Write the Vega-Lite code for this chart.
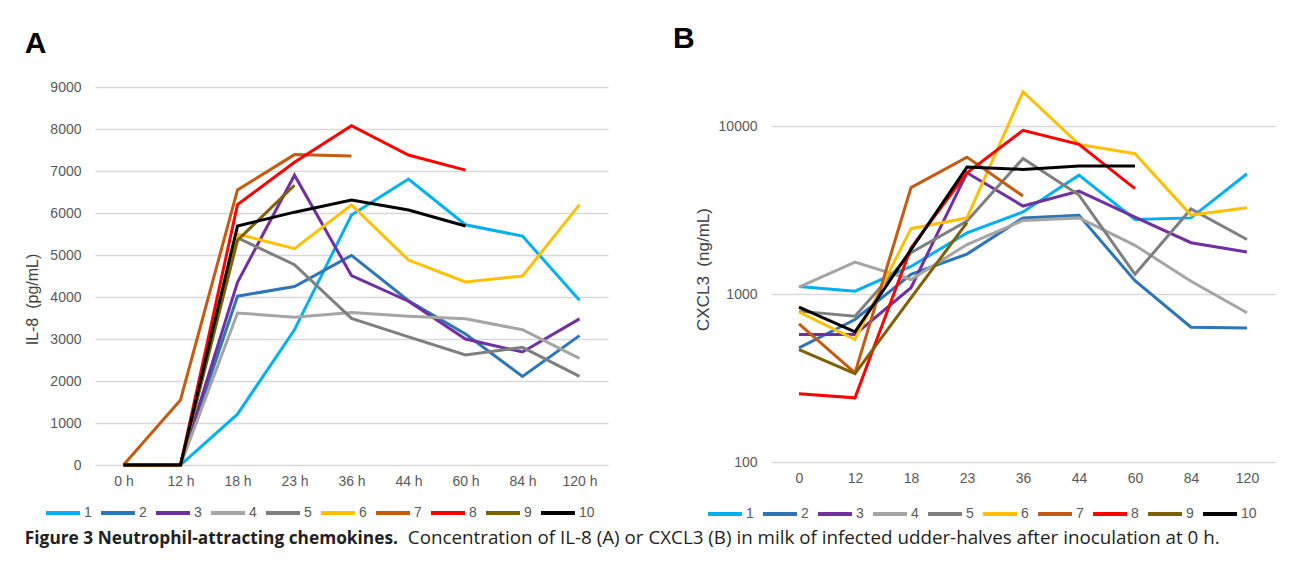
{
  "$schema": "https://vega.github.io/schema/vega-lite/v6.json",
  "background": "white",
  "padding": {"left": 24, "top": 24, "right": 10, "bottom": 4},
  "config": {
    "view": {"stroke": null},
    "font": "Liberation Sans",
    "axis": {
      "labelFont": "Liberation Sans", "labelFontSize": 14, "labelColor": "#595959",
      "titleFont": "Liberation Sans", "titleFontSize": 17, "titleFontWeight": "normal", "titleColor": "#404040",
      "gridColor": "#D9D9D9", "gridWidth": 1.5, "domain": false, "ticks": false
    },
    "legend": {
      "labelFont": "Liberation Sans", "labelFontSize": 14, "labelColor": "#595959",
      "symbolType": "stroke", "symbolSize": 1156, "symbolStrokeWidth": 4,
      "labelOffset": 2, "columnPadding": 1, "direction": "horizontal", "columns": 10,
      "orient": "none", "title": null
    }
  },
  "datasets": {
    "a": [
      {"s":"1","t":"0 h","v":0},{"s":"1","t":"12 h","v":0},{"s":"1","t":"18 h","v":1210},{"s":"1","t":"23 h","v":3220},{"s":"1","t":"36 h","v":5950},{"s":"1","t":"44 h","v":6810},{"s":"1","t":"60 h","v":5720},{"s":"1","t":"84 h","v":5450},{"s":"1","t":"120 h","v":3920},
      {"s":"2","t":"0 h","v":0},{"s":"2","t":"12 h","v":0},{"s":"2","t":"18 h","v":4020},{"s":"2","t":"23 h","v":4250},{"s":"2","t":"36 h","v":4990},{"s":"2","t":"44 h","v":3910},{"s":"2","t":"60 h","v":3120},{"s":"2","t":"84 h","v":2110},{"s":"2","t":"120 h","v":3080},
      {"s":"3","t":"0 h","v":0},{"s":"3","t":"12 h","v":0},{"s":"3","t":"18 h","v":4350},{"s":"3","t":"23 h","v":6900},{"s":"3","t":"36 h","v":4510},{"s":"3","t":"44 h","v":3900},{"s":"3","t":"60 h","v":3000},{"s":"3","t":"84 h","v":2690},{"s":"3","t":"120 h","v":3480},
      {"s":"4","t":"0 h","v":0},{"s":"4","t":"12 h","v":0},{"s":"4","t":"18 h","v":3620},{"s":"4","t":"23 h","v":3520},{"s":"4","t":"36 h","v":3630},{"s":"4","t":"44 h","v":3540},{"s":"4","t":"60 h","v":3480},{"s":"4","t":"84 h","v":3220},{"s":"4","t":"120 h","v":2540},
      {"s":"5","t":"0 h","v":0},{"s":"5","t":"12 h","v":0},{"s":"5","t":"18 h","v":5410},{"s":"5","t":"23 h","v":4770},{"s":"5","t":"36 h","v":3490},{"s":"5","t":"44 h","v":3050},{"s":"5","t":"60 h","v":2620},{"s":"5","t":"84 h","v":2800},{"s":"5","t":"120 h","v":2110},
      {"s":"6","t":"0 h","v":0},{"s":"6","t":"12 h","v":0},{"s":"6","t":"18 h","v":5500},{"s":"6","t":"23 h","v":5150},{"s":"6","t":"36 h","v":6190},{"s":"6","t":"44 h","v":4880},{"s":"6","t":"60 h","v":4360},{"s":"6","t":"84 h","v":4500},{"s":"6","t":"120 h","v":6200},
      {"s":"7","t":"0 h","v":0},{"s":"7","t":"12 h","v":1550},{"s":"7","t":"18 h","v":6550},{"s":"7","t":"23 h","v":7390},{"s":"7","t":"36 h","v":7360},
      {"s":"8","t":"0 h","v":0},{"s":"8","t":"12 h","v":0},{"s":"8","t":"18 h","v":6200},{"s":"8","t":"23 h","v":7210},{"s":"8","t":"36 h","v":8080},{"s":"8","t":"44 h","v":7380},{"s":"8","t":"60 h","v":7020},
      {"s":"9","t":"0 h","v":0},{"s":"9","t":"12 h","v":0},{"s":"9","t":"18 h","v":5350},{"s":"9","t":"23 h","v":6660},
      {"s":"10","t":"0 h","v":0},{"s":"10","t":"12 h","v":0},{"s":"10","t":"18 h","v":5690},{"s":"10","t":"23 h","v":6020},{"s":"10","t":"36 h","v":6310},{"s":"10","t":"44 h","v":6070},{"s":"10","t":"60 h","v":5690}
    ],
    "b": [
      {"s":"1","t":"0","v":1110},{"s":"1","t":"12","v":1040},{"s":"1","t":"18","v":1460},{"s":"1","t":"23","v":2310},{"s":"1","t":"36","v":3080},{"s":"1","t":"44","v":5100},{"s":"1","t":"60","v":2780},{"s":"1","t":"84","v":2840},{"s":"1","t":"120","v":5200},
      {"s":"2","t":"0","v":478},{"s":"2","t":"12","v":705},{"s":"2","t":"18","v":1310},{"s":"2","t":"23","v":1730},{"s":"2","t":"36","v":2840},{"s":"2","t":"44","v":2940},{"s":"2","t":"60","v":1200},{"s":"2","t":"84","v":634},{"s":"2","t":"120","v":628},
      {"s":"3","t":"0","v":574},{"s":"3","t":"12","v":574},{"s":"3","t":"18","v":1090},{"s":"3","t":"23","v":5270},{"s":"3","t":"36","v":3340},{"s":"3","t":"44","v":4100},{"s":"3","t":"60","v":2870},{"s":"3","t":"84","v":2020},{"s":"3","t":"120","v":1780},
      {"s":"4","t":"0","v":1100},{"s":"4","t":"12","v":1550},{"s":"4","t":"18","v":1220},{"s":"4","t":"23","v":1970},{"s":"4","t":"36","v":2740},{"s":"4","t":"44","v":2840},{"s":"4","t":"60","v":1950},{"s":"4","t":"84","v":1190},{"s":"4","t":"120","v":773},
      {"s":"5","t":"0","v":791},{"s":"5","t":"12","v":738},{"s":"5","t":"18","v":1760},{"s":"5","t":"23","v":2720},{"s":"5","t":"36","v":6410},{"s":"5","t":"44","v":3880},{"s":"5","t":"60","v":1310},{"s":"5","t":"84","v":3210},{"s":"5","t":"120","v":2110},
      {"s":"6","t":"0","v":783},{"s":"6","t":"12","v":536},{"s":"6","t":"18","v":2450},{"s":"6","t":"23","v":2840},{"s":"6","t":"36","v":16000},{"s":"6","t":"44","v":7780},{"s":"6","t":"60","v":6840},{"s":"6","t":"84","v":2950},{"s":"6","t":"120","v":3260},
      {"s":"7","t":"0","v":664},{"s":"7","t":"12","v":339},{"s":"7","t":"18","v":4300},{"s":"7","t":"23","v":6530},{"s":"7","t":"36","v":3830},
      {"s":"8","t":"0","v":255},{"s":"8","t":"12","v":241},{"s":"8","t":"18","v":1880},{"s":"8","t":"23","v":5270},{"s":"8","t":"36","v":9420},{"s":"8","t":"44","v":7780},{"s":"8","t":"60","v":4240},
      {"s":"9","t":"0","v":467},{"s":"9","t":"12","v":336},{"s":"9","t":"18","v":950},{"s":"9","t":"23","v":2660},
      {"s":"10","t":"0","v":836},{"s":"10","t":"12","v":596},{"s":"10","t":"18","v":1840},{"s":"10","t":"23","v":5700},{"s":"10","t":"36","v":5520},{"s":"10","t":"44","v":5780},{"s":"10","t":"60","v":5780}
    ]
  },
  "title": {
    "text": "Concentration of IL-8 (A) or CXCL3 (B) in milk of infected udder-halves after inoculation at 0 h.",
    "orient": "bottom", "anchor": "start", "font": "Open Sans", "fontSize": 18.8, "fontWeight": "normal",
    "color": "#231F20", "offset": 0, "dx": 383, "dy": -18
  },
  "vconcat": [
    {
      "title": {
        "text": "Figure 3  Neutrophil-attracting chemokines.",
        "orient": "bottom", "anchor": "start", "font": "Open Sans", "fontSize": 17.3, "fontWeight": "bold",
        "color": "#231F20", "offset": 8
      },
      "bounds": "flush",
      "spacing": 163,
      "resolve": {"scale": {"color": "independent"}, "legend": {"color": "independent"}},
      "hconcat": [
        {
          "title": {"text": "A", "anchor": "start", "fontSize": 30, "fontWeight": "bold", "font": "Liberation Sans", "color": "black", "offset": 17},
          "width": 513,
          "height": 389,
          "data": {"name": "a"},
          "mark": {"type": "line", "strokeWidth": 3},
          "encoding": {
            "x": {"field": "t", "type": "ordinal", "sort": ["0 h","12 h","18 h","23 h","36 h","44 h","60 h","84 h","120 h"],
                  "scale": {"type": "point", "padding": 0.5},
                  "axis": {"title": null, "labelAngle": 0, "labelPadding": 9, "grid": false}},
            "y": {"field": "v", "type": "quantitative",
                  "scale": {"domain": [0, 9262], "nice": false, "zero": true},
                  "axis": {"title": "IL-8\u00a0 (pg/mL)", "titleFontSize": 16, "titleY": 223, "values": [0,1000,2000,3000,4000,5000,6000,7000,8000,9000], "format": "d", "labelPadding": 14, "titlePadding": 9, "grid": true}},
            "color": {"field": "s", "type": "nominal",
                      "scale": {"domain": ["1","2","3","4","5","6","7","8","9","10"],
                                "range": ["#00B0F0","#2E75B6","#7030A0","#A5A5A5","#7F7F7F","#FFC000","#C55A11","#FF0000","#7F6000","#000000"]},
                      "legend": {"legendX": -51, "legendY": 418}}
          }
        },
        {
          "title": {"text": "B", "anchor": "start", "fontSize": 30, "fontWeight": "bold", "font": "Liberation Sans", "color": "black", "offset": 17, "dx": -21, "dy": -5},
          "width": 504,
          "height": 386,
          "data": {"name": "b"},
          "mark": {"type": "line", "strokeWidth": 3},
          "encoding": {
            "x": {"field": "t", "type": "ordinal", "sort": ["0","12","18","23","36","44","60","84","120"],
                  "scale": {"type": "point", "padding": 0.5},
                  "axis": {"title": null, "labelAngle": 0, "labelPadding": 9, "grid": false}},
            "y": {"field": "v", "type": "quantitative",
                  "scale": {"type": "log", "domain": [100, 19860], "nice": false},
                  "axis": {"title": "CXCL3\u00a0 (ng/mL)", "values": [100, 1000, 10000], "format": "d", "labelPadding": 14, "titlePadding": 6, "grid": true}},
            "color": {"field": "s", "type": "nominal",
                      "scale": {"domain": ["1","2","3","4","5","6","7","8","9","10"],
                                "range": ["#00B0F0","#2E75B6","#7030A0","#A5A5A5","#7F7F7F","#FFC000","#C55A11","#FF0000","#7F6000","#000000"]},
                      "legend": {"legendX": -65, "legendY": 419}}
          }
        }
      ]
    }
  ]
}
